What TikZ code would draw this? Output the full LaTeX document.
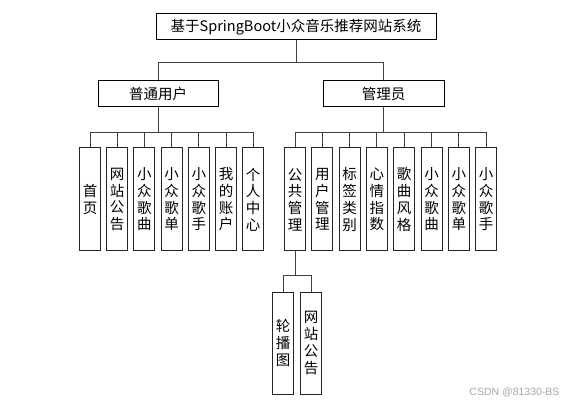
\documentclass[tikz,border=0pt]{standalone}
\usepackage{fontspec}
\setmainfont{Noto Sans CJK SC}
\newfontfamily\cjk{Noto Sans CJK SC}
\newfontfamily\marksans{Liberation Sans}
\usepackage{xcolor}
\usepackage{tikz}

\begin{document}
\begin{tikzpicture}[x=1pt,y=-1pt]
			\tikzstyle{every node}=[font=\cjk\fontsize{14.5}{16.7}\selectfont];
			\tikzstyle{topbox}=[draw=black, line width=1pt, minimum height=26pt, inner sep=0pt];
			\tikzstyle{leafbox}=[draw=black!85, line width=1pt, minimum width=21pt, minimum height=103pt, inner sep=0pt, align=center];
			\tikzstyle{link}=[draw=black!75, line width=1pt];
			\useasboundingbox (0,0) rectangle (567,403);
			
			%Level 1
			\node[topbox, minimum width=280pt] (title) at (296, 27) {基于SpringBoot小众音乐推荐网站系统};
			
			%Level 2
			\node[topbox, minimum width=120pt] (user) at (158, 94) {普通用户};
			\node[topbox, minimum width=121pt] (admin) at (383.5, 94) {管理员};
			
			%Level 3
			\foreach \t [count=\i] in {{首\\页}, {网\\站\\公\\告}, {小\\众\\歌\\曲}, {小\\众\\歌\\单}, {小\\众\\歌\\手}, {我\\的\\账\\户}, {个\\人\\中\\心}}
				\node[leafbox] (u\i) at ({90+27.2*(\i-1)}, 199.5) {\t};
			\foreach \t [count=\i] in {{公\\共\\管\\理}, {用\\户\\管\\理}, {标\\签\\类\\别}, {心\\情\\指\\数}, {歌\\曲\\风\\格}, {小\\众\\歌\\曲}, {小\\众\\歌\\单}, {小\\众\\歌\\手}}
				\node[leafbox] (a\i) at ({295+27.3*(\i-1)}, 199.5) {\t};
			
			%Level 4
			\node[leafbox, minimum height=102pt] (s1) at (283, 343) {轮\\播\\图};
			\node[leafbox, minimum height=102pt] (s2) at (311, 343) {网\\站\\公\\告};
			
			%Lines
			\draw[link] (title.south) -- ++(0,22) -| (user.north);
			\draw[link] (title.south) -- ++(0,22) -| (admin.north);
			\foreach \i in {1,...,7}
				\draw[link] (user.south) -- ++(0,25) -| (u\i.north);
			\foreach \i in {1,...,8}
				\draw[link] (admin.south) -- ++(0,25) -| (a\i.north);
			\draw[link] (a1.south) -- ++(0,24) -| (s1.north);
			\draw[link] (a1.south) -- ++(0,24) -| (s2.north);
			
			%Mark
			\node[font=\marksans\fontsize{10.5}{12}\selectfont, text=black!35, anchor=east] (mark) at (563, 392) {CSDN @81330-BS};
			\end{tikzpicture}
\end{document}
